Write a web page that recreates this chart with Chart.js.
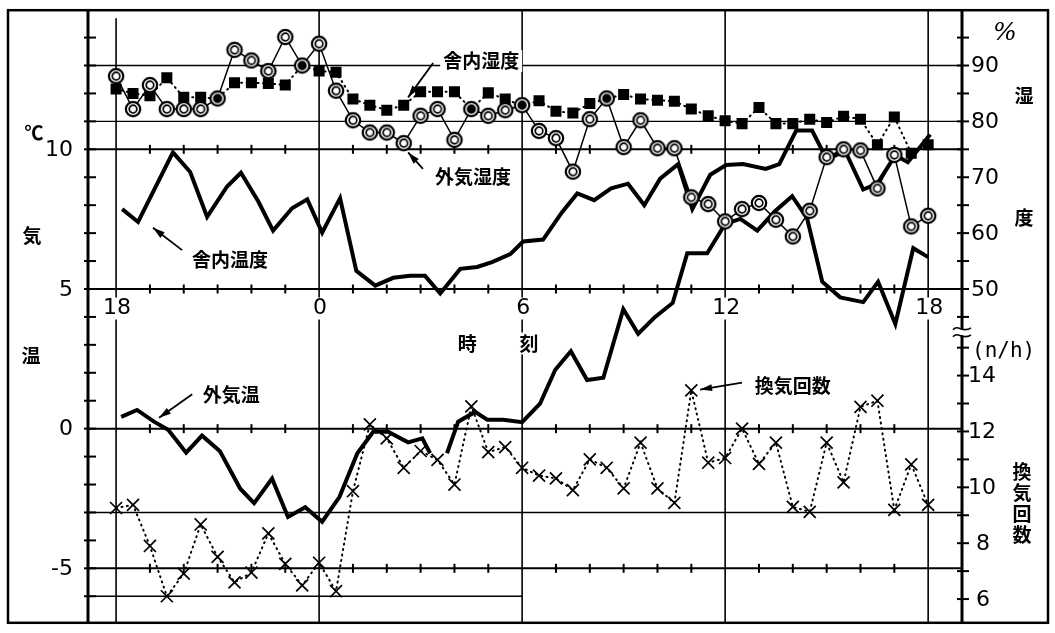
<!DOCTYPE html>
<html lang="ja">
<head>
<meta charset="utf-8">
<title>舎内外の温湿度と換気回数</title>
<script src="https://cdn.jsdelivr.net/npm/chart.js@4.4.1/dist/chart.umd.min.js"></script>
<style>
    html, body { margin: 0; padding: 0; background: #fff; }
    #wrap { width: 1055px; height: 633px; }
</style>
</head>
<body>
<div id="wrap"><canvas id="grafico" width="1055" height="633"></canvas></div>
<script>
// horas depois das 18:00, de meia em meia hora
var horas = [0, 0.5, 1, 1.5, 2, 2.5, 3, 3.5, 4, 4.5, 5, 5.5, 6, 6.5, 7, 7.5, 8, 8.5, 9, 9.5,
    10, 10.5, 11, 11.5, 12, 12.5, 13, 13.5, 14, 14.5, 15, 15.5, 16, 16.5, 17, 17.5, 18, 18.5,
    19, 19.5, 20, 20.5, 21, 21.5, 22, 22.5, 23, 23.5, 24];

// 舎内湿度 (%)
var umidadeInterior = [85.8, 85.0, 84.6, 87.8, 84.3, 84.3, 84.1, 86.9, 86.9, 86.8, 86.5, 90.0,
    89.0, 88.8, 84.0, 82.9, 82.0, 82.9, 85.3, 85.3, 85.3, 82.2, 85.1, 84.0, 82.8, 83.7, 81.8,
    81.5, 83.2, 84.1, 84.8, 84.0, 83.8, 83.6, 82.2, 81.0, 80.1, 79.6, 82.5, 79.6, 79.6, 80.4,
    79.8, 80.9, 80.4, 75.8, 80.8, 74.3, 75.8];

// 外気湿度 (%)
var umidadeExterior = [88.1, 82.2, 86.5, 82.2, 82.2, 82.2, 84.1, 92.8, 90.9, 89.0, 95.1, 90.0,
    93.9, 85.5, 80.2, 78.0, 78.0, 76.1, 81.0, 82.2, 76.7, 82.2, 81.0, 82.0, 82.9, 78.3, 77.0,
    71.0, 80.4, 84.1, 75.4, 80.2, 75.2, 75.2, 66.4, 65.2, 62.1, 64.3, 65.4, 62.4, 59.4, 64.0,
    73.6, 75.0, 74.8, 68.0, 74.0, 61.2, 63.1];

// 換気回数 (n/h)
var ventilacao = [9.26, 9.37, 7.9, 6.1, 6.91, 8.67, 7.51, 6.6, 6.95, 8.35, 7.26, 6.49, 7.3,
    6.28, 9.86, 12.25, 11.75, 10.7, 11.3, 10.98, 10.1, 12.9, 11.26, 11.44, 10.7, 10.42, 10.32,
    9.9, 11.0, 10.7, 9.96, 11.6, 9.96, 9.44, 13.47, 10.88, 11.05, 12.1, 10.84, 11.6, 9.3, 9.12,
    11.6, 10.18, 12.88, 13.1, 9.19, 10.82, 9.37];

// 舎内温度 (℃)
var horasTempInt = [0.18, 0.65, 1.68, 2.19, 2.69, 3.28, 3.69, 4.2, 4.64, 5.2, 5.65, 6.09, 6.62,
    7.1, 7.66, 8.19, 8.69, 9.13, 9.58, 10.17, 10.67, 11.11, 11.65, 12.03, 12.62, 13.18, 13.63,
    14.13, 14.63, 15.13, 15.61, 16.08, 16.61, 17.03, 17.56, 18.03, 18.53, 19.2, 19.6, 20.1,
    20.57, 21.0, 21.55, 22.08, 22.5, 23.03, 23.4, 24.06];
var tempInterior = [7.86, 7.4, 9.89, 9.19, 7.58, 8.67, 9.16, 8.14, 7.09, 7.89, 8.21, 7.02, 8.25,
    5.65, 5.12, 5.4, 5.47, 5.47, 4.84, 5.72, 5.79, 5.96, 6.25, 6.7, 6.77, 7.75, 8.42, 8.18, 8.6,
    8.77, 8.0, 8.95, 9.47, 7.86, 9.09, 9.44, 9.47, 9.3, 9.47, 10.67, 10.67, 9.65, 9.93, 8.56,
    8.77, 9.79, 9.54, 10.53];

// 外気温 (℃), null = falha no registo
var horasTempExt = [0.15, 0.62, 1.12, 1.54, 2.07, 2.54, 3.07, 3.67, 4.08, 4.61, 5.08, 5.59, 6.09,
    6.6, 7.13, 7.6, 8.04, 8.63, 9.05, 9.28, 9.5, 9.78, 10.11, 10.61, 10.97, 11.44, 12.0, 12.53,
    12.98, 13.44, 13.92, 14.4, 14.99, 15.43, 15.93, 16.45, 16.88, 17.47, 18.0, 18.45, 18.95,
    19.48, 19.98, 20.42, 20.87, 21.4, 22.08, 22.52, 23.03, 23.56, 24.0];
var tempExterior = [0.42, 0.67, 0.25, -0.04, -0.86, -0.25, -0.81, -2.15, -2.67, -1.79, -3.16,
    -2.81, -3.33, -2.45, -0.88, -0.11, -0.11, -0.49, -0.35, -0.88, null, -0.88, 0.25, 0.6, 0.32,
    0.32, 0.23, 0.9, 2.11, 2.77, 1.74, 1.82, 4.28, 3.4, 4.0, 4.5, 6.28, 6.28, 7.33, 7.51, 7.09,
    7.79, 8.32, 7.54, 5.26, 4.7, 4.53, 5.26, 3.75, 6.46, 6.14];

// eixos
var posHoras = [0, 6, 12, 18, 24];
var etiquetasHoras = ["18", "0", "6", "12", "18"];
var ticksTemp = [10, 5, 0, -5];
var ticksUmidade = [90, 80, 70, 60, 50];
var ticksVentilacao = [14, 12, 10, 8, 6];

var fonteNum = '22px "DejaVu Sans"';
var fonteJp = 'bold 19px "Noto Sans CJK JP"';

function pontos(xs, ys) {
    var res = [];
    for (var i = 0; i < xs.length; i++) {
        res.push({x: xs[i], y: ys[i]});
    }
    return res;
}

// marcador ◎ (com centro preto quando o quadrado fica por baixo)
function marcadorCirculo(cheio) {
    var c = document.createElement("canvas");
    c.width = 20;
    c.height = 20;
    var g = c.getContext("2d");
    g.beginPath();
    g.arc(10, 10, 7.2, 0, Math.PI * 2);
    g.fillStyle = "#fff";
    g.fill();
    g.lineWidth = 2.2;
    g.strokeStyle = "#000";
    g.stroke();
    g.beginPath();
    g.arc(10, 10, 3.8, 0, Math.PI * 2);
    if (cheio) {
        g.fillStyle = "#000";
        g.fill();
    }
    g.lineWidth = 1.7;
    g.stroke();
    return c;
}
var circuloVazio = marcadorCirculo(false);
var circuloCheio = marcadorCirculo(true);

function seta(ctx, x0, y0, x1, y1) {
    var ang = Math.atan2(y1 - y0, x1 - x0);
    ctx.beginPath();
    ctx.moveTo(x0, y0);
    ctx.lineTo(x1, y1);
    ctx.lineWidth = 1.8;
    ctx.stroke();
    ctx.beginPath();
    ctx.moveTo(x1, y1);
    ctx.lineTo(x1 - 12 * Math.cos(ang) + 3.5 * Math.sin(ang), y1 - 12 * Math.sin(ang) - 3.5 * Math.cos(ang));
    ctx.lineTo(x1 - 12 * Math.cos(ang) - 3.5 * Math.sin(ang), y1 - 12 * Math.sin(ang) + 3.5 * Math.cos(ang));
    ctx.closePath();
    ctx.fill();
}

function textoComFundo(ctx, txt, x, y) {
    var w = ctx.measureText(txt).width;
    ctx.fillStyle = "#fff";
    ctx.fillRect(x - w / 2 - 3, y - 11, w + 6, 22);
    ctx.fillStyle = "#000";
    ctx.fillText(txt, x, y);
}

var decoracao = {
    id: "decoracao",
    beforeDatasetsDraw: function (chart) {
        var ctx = chart.ctx, a = chart.chartArea;
        var sx = chart.scales.x, sT = chart.scales.yT, sH = chart.scales.yH;
        ctx.save();
        ctx.strokeStyle = "#000";
        ctx.lineCap = "butt";

        // linhas finas de humidade
        ctx.lineWidth = 1.4;
        [90, 80].forEach(function (h) {
            var y = sH.getPixelForValue(h);
            ctx.beginPath();
            ctx.moveTo(a.left, y);
            ctx.lineTo(a.right, y);
            ctx.stroke();
        });
        // linhas finas em -3 e -6
        var y3 = sT.getPixelForValue(-3);
        ctx.beginPath();
        ctx.moveTo(a.left, y3);
        ctx.lineTo(a.right, y3);
        ctx.stroke();
        var y6 = sT.getPixelForValue(-6);
        ctx.beginPath();
        ctx.moveTo(a.left, y6);
        ctx.lineTo(sx.getPixelForValue(12), y6);
        ctx.stroke();

        // linhas principais com marcas de hora
        ticksTemp.forEach(function (t) {
            var y = sT.getPixelForValue(t);
            ctx.lineWidth = 2;
            ctx.beginPath();
            ctx.moveTo(a.left, y);
            ctx.lineTo(a.right, y);
            ctx.stroke();
            for (var h = 1; h < 24; h++) {
                if (h % 6 == 0) continue;
                var x = sx.getPixelForValue(h);
                ctx.beginPath();
                ctx.moveTo(x, y - 4.5);
                ctx.lineTo(x, y + 4.5);
                ctx.stroke();
            }
        });

        // linhas verticais
        ctx.lineWidth = 1.6;
        posHoras.forEach(function (h, i) {
            var x = sx.getPixelForValue(h);
            ctx.beginPath();
            ctx.moveTo(x, i == 0 ? a.top + 8 : a.top);
            ctx.lineTo(x, a.bottom);
            ctx.stroke();
        });
        ctx.restore();
    },
    afterDraw: function (chart) {
        var ctx = chart.ctx, a = chart.chartArea;
        var sx = chart.scales.x, sT = chart.scales.yT, sH = chart.scales.yH, sN = chart.scales.yN;
        ctx.save();
        ctx.strokeStyle = "#000";
        ctx.fillStyle = "#000";

        // eixo esquerdo
        ctx.lineWidth = 3;
        ctx.beginPath();
        ctx.moveTo(a.left, a.top);
        ctx.lineTo(a.left, a.bottom);
        ctx.stroke();
        ctx.lineWidth = 2;
        for (var t = -6; t <= 14; t++) {
            var yt = sT.getPixelForValue(t);
            ctx.beginPath();
            ctx.moveTo(a.left - 4, yt);
            ctx.lineTo(a.left + 8, yt);
            ctx.stroke();
        }

        // eixo direito
        ctx.lineWidth = 3;
        ctx.beginPath();
        ctx.moveTo(a.right, a.top);
        ctx.lineTo(a.right, a.bottom);
        ctx.stroke();
        ctx.lineWidth = 2;
        for (var h = 45; h <= 95; h += 5) {
            var yh = sH.getPixelForValue(h);
            ctx.beginPath();
            ctx.moveTo(a.right - 5, yh);
            ctx.lineTo(a.right + 7, yh);
            ctx.stroke();
        }
        for (var n = 6; n <= 15; n++) {
            var yn = sN.getPixelForValue(n);
            ctx.beginPath();
            ctx.moveTo(a.right - 5, yn);
            ctx.lineTo(a.right + 7, yn);
            ctx.stroke();
        }
        // quebra do eixo (≈)
        var yq = (sH.getPixelForValue(45) + sN.getPixelForValue(15)) / 2;
        ctx.fillStyle = "#fff";
        ctx.fillRect(a.right - 3, yq - 3, 6, 6);
        ctx.lineWidth = 1.6;
        [yq - 3.5, yq + 3.5].forEach(function (y) {
            ctx.beginPath();
            ctx.moveTo(a.right - 9, y + 1);
            ctx.bezierCurveTo(a.right - 4, y - 5, a.right + 1, y + 5, a.right + 9, y - 1);
            ctx.stroke();
        });
        ctx.fillStyle = "#000";

        // moldura
        ctx.lineWidth = 2.5;
        ctx.strokeRect(8, a.top, 1040, a.bottom - a.top);

        // etiquetas numéricas
        ctx.font = fonteNum;
        ctx.textBaseline = "middle";
        ctx.textAlign = "right";
        ticksTemp.forEach(function (t) {
            ctx.fillText(String(t), a.left - 15, sT.getPixelForValue(t) + 1);
        });
        ctx.textAlign = "left";
        ticksUmidade.forEach(function (h) {
            ctx.fillText(String(h), a.right + 9, sH.getPixelForValue(h) + 1);
        });
        ticksVentilacao.forEach(function (n) {
            var s = String(n);
            ctx.fillText(s, a.right + (s.length > 1 ? 6 : 14), sN.getPixelForValue(n) + 1);
        });
        ctx.textAlign = "center";
        posHoras.forEach(function (h, i) {
            textoComFundo(ctx, etiquetasHoras[i], sx.getPixelForValue(h) + 1, sT.getPixelForValue(4.3));
        });
        ctx.font = '21px "DejaVu Sans Mono"';
        ctx.textAlign = "left";
        ctx.fillText("(n/h)", a.right + 10, sN.getPixelForValue(14.85));
        ctx.font = 'italic 25px "DejaVu Serif"';
        ctx.textAlign = "center";
        ctx.fillText("%", a.right + 43, sH.getPixelForValue(95.9) + 1);

        // títulos dos eixos
        ctx.font = fonteJp;
        ctx.textAlign = "center";
        ctx.fillText("℃", a.left - 54, sT.getPixelForValue(10.6));
        ctx.fillText("気", a.left - 56, sT.getPixelForValue(6.9));
        ctx.fillText("温", a.left - 57, sT.getPixelForValue(2.6));
        ctx.fillText("湿", a.right + 62, sH.getPixelForValue(84.5));
        ctx.fillText("度", a.right + 62, sH.getPixelForValue(62.8));
        var tituloVent = ["換", "気", "回", "数"];
        tituloVent.forEach(function (c, i) {
            ctx.fillText(c, a.right + 60, sN.getPixelForValue(10.55) + i * 21);
        });
        textoComFundo(ctx, "時", sx.getPixelForValue(10.38), sT.getPixelForValue(3.05));
        textoComFundo(ctx, "刻", sx.getPixelForValue(12.2), sT.getPixelForValue(3.05));

        // notas com setas
        var notas = [
            {txt: "舎内湿度", t: 10.79, v: 13.16, de: [9.37, 13.09], para: [8.63, 11.86], fundo: true},
            {txt: "外気湿度", t: 10.55, v: 9.02, de: [9.07, 9.3], para: [8.63, 9.89]},
            {txt: "舎内温度", t: 3.37, v: 6.04, de: [1.95, 6.39], para: [1.09, 7.19]},
            {txt: "外気温", t: 3.4, v: 1.23, de: [2.25, 1.23], para: [1.27, 0.39]},
            {txt: "換気回数", t: 20.0, v: 1.54, de: [18.5, 1.65], para: [17.26, 1.4]}
        ];
        notas.forEach(function (o) {
            var x = sx.getPixelForValue(o.t), y = sT.getPixelForValue(o.v);
            if (o.fundo) {
                textoComFundo(ctx, o.txt, x, y);
            } else {
                ctx.fillText(o.txt, x, y);
            }
            seta(ctx, sx.getPixelForValue(o.de[0]), sT.getPixelForValue(o.de[1]),
                sx.getPixelForValue(o.para[0]), sT.getPixelForValue(o.para[1]));
        });
        ctx.restore();
    }
};

function makeGrafico() {
    var canvas = document.getElementById("grafico");

    var dsUmidExt = {
        label: "外気湿度",
        data: pontos(horas, umidadeExterior),
        yAxisID: "yH",
        order: 0,
        borderColor: "#000",
        borderWidth: 1.5,
        tension: 0,
        pointStyle: function (c) {
            var i = c.dataIndex;
            return Math.abs(umidadeInterior[i] - umidadeExterior[i]) < 1.2 ? circuloCheio : circuloVazio;
        },
        pointRadius: 7
    };
    var dsUmidInt = {
        label: "舎内湿度",
        data: pontos(horas, umidadeInterior),
        yAxisID: "yH",
        order: 1,
        borderColor: "#000",
        borderWidth: 2,
        borderDash: [1, 4.5],
        borderCapStyle: "round",
        tension: 0,
        pointStyle: "rect",
        pointRadius: 7.8,
        pointBackgroundColor: "#000",
        pointBorderColor: "#000",
        pointBorderWidth: 0
    };
    var dsTempInt = {
        label: "舎内温度",
        data: pontos(horasTempInt, tempInterior),
        yAxisID: "yT",
        order: 2,
        borderColor: "#000",
        borderWidth: 4,
        tension: 0,
        pointRadius: 0
    };
    var dsTempExt = {
        label: "外気温",
        data: pontos(horasTempExt, tempExterior),
        yAxisID: "yT",
        order: 2,
        borderColor: "#000",
        borderWidth: 4,
        tension: 0,
        spanGaps: false,
        pointRadius: 0
    };
    var dsVent = {
        label: "換気回数",
        data: pontos(horas, ventilacao),
        yAxisID: "yN",
        order: 3,
        borderColor: "#000",
        borderWidth: 2,
        borderDash: [1, 4.5],
        borderCapStyle: "round",
        tension: 0,
        pointStyle: "crossRot",
        pointRadius: 8.5,
        pointBorderWidth: 1.7,
        pointBorderColor: "#000"
    };

    new Chart(canvas, {
        type: "line",
        data: {datasets: [dsUmidExt, dsUmidInt, dsTempInt, dsTempExt, dsVent]},
        options: {
            responsive: false,
            devicePixelRatio: 1,
            animation: false,
            layout: {padding: {left: 88, right: 93, top: 5, bottom: 3}},
            plugins: {legend: {display: false}, tooltip: {enabled: false}},
            scales: {
                x: {type: "linear", min: -0.83, max: 25.0, display: false},
                yT: {type: "linear", min: -6.95, max: 14.98, display: false},
                yH: {type: "linear", min: -9.75, max: 99.9, display: false},
                yN: {type: "linear", min: 5.15, max: 27.08, display: false}
            }
        },
        plugins: [decoracao]
    });
}

document.addEventListener("DOMContentLoaded", makeGrafico);
</script>
</body>
</html>
